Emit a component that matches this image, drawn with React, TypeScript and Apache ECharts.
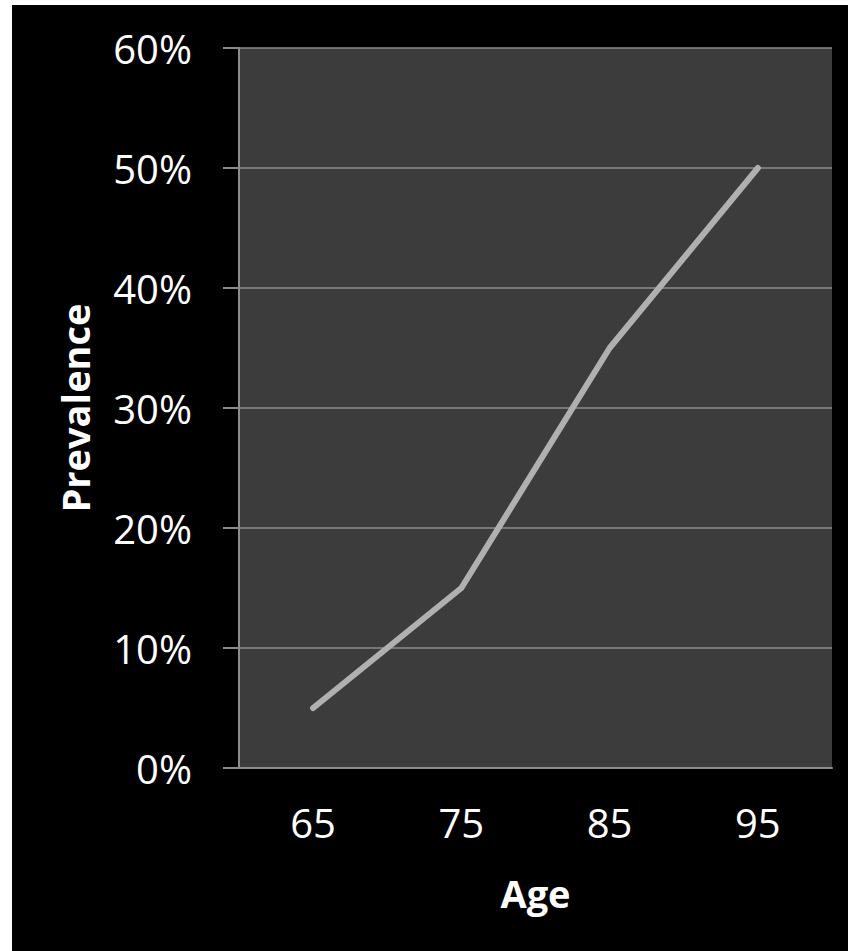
import React, { useEffect, useRef } from "react";
import * as echarts from "echarts";

const ages = ["65", "75", "85", "95"];
const prevalence = [5, 15, 35, 50];
const yTicks = [0, 10, 20, 30, 40, 50, 60];

export default function App() {
  const ref = useRef<HTMLDivElement>(null);
  useEffect(() => {
    if (!ref.current) return;
    const chart = echarts.init(ref.current, undefined, { renderer: "svg" });
    const font = "'Open Sans', Lato, sans-serif";
    chart.setOption({
      animation: false,
      backgroundColor: "#000000",
      grid: {
        left: 227,
        right: 16,
        top: 43,
        bottom: 183,
        show: true,
        backgroundColor: "#3c3c3c",
        borderWidth: 0,
      },
      xAxis: {
        type: "category",
        data: ages,
        boundaryGap: true,
        name: "Age",
        nameLocation: "middle",
        nameGap: 106,
        nameTextStyle: { color: "#ffffff", fontSize: 38, fontWeight: "bold", fontFamily: font },
        axisLine: { show: true, lineStyle: { color: "#8c8c8c", width: 2 } },
        axisTick: { show: false },
        axisLabel: { color: "#ffffff", fontSize: 40, margin: 34, fontFamily: font },
      },
      yAxis: {
        type: "value",
        min: 0,
        max: 60,
        interval: 10,
        name: "Prevalence",
        nameLocation: "middle",
        nameGap: 145,
        nameTextStyle: { color: "#ffffff", fontSize: 38, fontWeight: "bold", fontFamily: font },
        axisLine: { show: true, lineStyle: { color: "#8c8c8c", width: 2 } },
        axisTick: { show: true, inside: false, length: 16, lineStyle: { color: "#8c8c8c", width: 2 } },
        splitLine: { show: true, lineStyle: { color: "#8c8c8c", width: 1.5 } },
        axisLabel: {
          color: "#ffffff",
          fontSize: 40,
          margin: 47,
          fontFamily: font,
          formatter: (v: number) => (yTicks.includes(v) ? v + "%" : ""),
        },
      },
      series: [
        {
          type: "line",
          data: prevalence,
          symbol: "none",
          lineStyle: { color: "#b0b0b0", width: 6, cap: "round", join: "round" },
        },
      ],
    });
    return () => chart.dispose();
  }, []);
  return (
    <div
      ref={ref}
      style={{ position: "absolute", left: 12, top: 5, width: 836, height: 946 }}
    />
  );
}
